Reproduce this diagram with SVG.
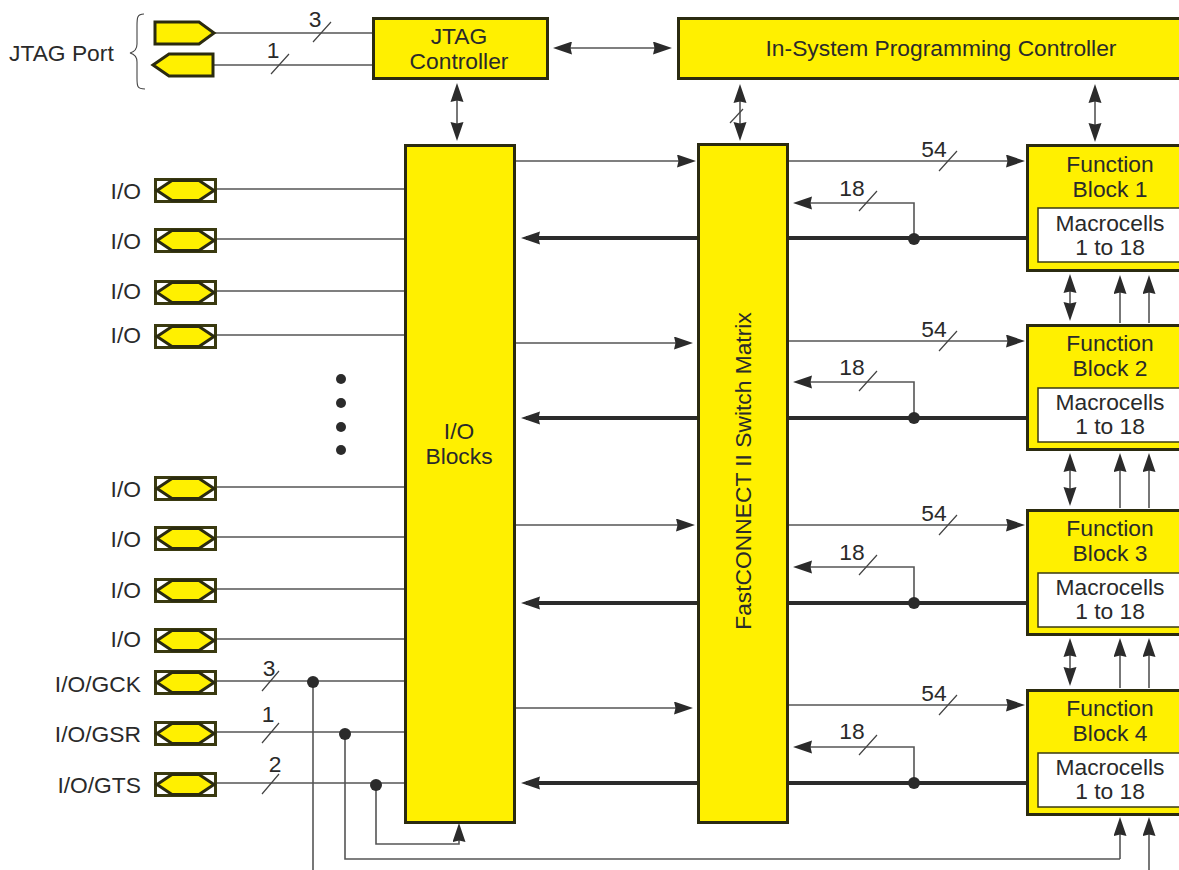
<svg xmlns="http://www.w3.org/2000/svg" xmlns:xlink="http://www.w3.org/1999/xlink" width="1179" height="870" viewBox="0 0 1179 870">
<style>
text{font-family:"Liberation Sans",Arial,sans-serif;font-size:22.8px;fill:#2a2a2a}
.m{text-anchor:middle}
.e{text-anchor:end}
.box{fill:#fff000;stroke:#2b2b10;stroke-width:3}
.in{fill:#fff;stroke:#3a3a10;stroke-width:1.5}
.pin{fill:#fff000;stroke:#2b2b10;stroke-width:3;stroke-linejoin:miter}
.pb{fill:#fff;stroke:#3a3a10;stroke-width:3}
.l{fill:none;stroke:#555;stroke-width:1.6}
.t{fill:none;stroke:#2b2b2b;stroke-width:4}
.s{fill:none;stroke:#444;stroke-width:1.2}
.a{marker-end:url(#ah)}
.aa{marker-end:url(#ah);marker-start:url(#ahs)}
.d{fill:#2b2b2b}
</style>
<defs>
<marker id="ah" markerUnits="userSpaceOnUse" markerWidth="20" markerHeight="14" refX="14" refY="6.500" orient="auto"><path d="M0 0L19 6.500L0 13L1.500 6.500Z" fill="#2b2b2b"/></marker>
<marker id="ahs" markerUnits="userSpaceOnUse" markerWidth="20" markerHeight="14" refX="5" refY="6.500" orient="auto"><path d="M19 0L0 6.500L19 13L17.500 6.500Z" fill="#2b2b2b"/></marker>
<g id="pinsym"><rect class="pb" x="155.500" y="-11" width="60" height="22"/><path class="pin" d="M157 0L172-10H199L214 0L199 10H172Z"/></g>
</defs>
<g id="connectors">
<path class="l" d="M214 33H373M213 65H373"/>
<path class="s" d="M313 42L331 22M271 74L289 54"/>
<path class="l aa" d="M558 48H667"/>
<path class="l aa" d="M457 88V136"/>
<path class="l aa" d="M740 89V136"/>
<path class="s" d="M730 123L743 109"/>
<path class="l aa" d="M1095 89V137"/>
<path class="l" d="M216 189H405M216 239H405M216 291H405M216 335H405M216 487H405M216 537H405M216 589H405M216 639H405M216 681H405M216 732H405M216 783H405"/>
<path class="s" d="M262 691L279 671M262 743L279 723M262 794L279 774"/>
<path class="l" d="M313 682V870"/>
<path class="l" d="M345 734V859H1120"/>
<path class="l a" d="M376 785V844H459V828"/>
<path class="l a" d="M1120 859V822"/>
<path class="l a" d="M1149 870V822"/>
<path class="l a" d="M515 161H691"/>
<path class="l a" d="M515 343H688"/>
<path class="l a" d="M515 525H690"/>
<path class="l a" d="M515 708H688"/>
<path class="t a" d="M698 238H526"/>
<path class="t a" d="M698 418H526"/>
<path class="t a" d="M698 603H526"/>
<path class="t a" d="M698 783H526"/>
<path class="t" d="M788 238H1027M788 418H1027M788 603H1027M788 783H1027"/>
<path class="l a" d="M788 161H1020"/>
<path class="l a" d="M788 341H1020"/>
<path class="l a" d="M788 525H1020"/>
<path class="l a" d="M788 705H1020"/>
<path class="s" d="M939 171L957 151M939 351L957 331M939 535L957 515M939 715L957 695"/>
<path class="l a" d="M914 238V203H798"/>
<path class="l a" d="M914 418V382H798"/>
<path class="l a" d="M914 603V567H798"/>
<path class="l a" d="M914 783V747H798"/>
<path class="s" d="M859 211L877 191M859 391L877 371M859 575L877 555M859 755L877 735"/>
<path class="l aa" d="M1070 279V316"/>
<path class="l aa" d="M1070 458V501"/>
<path class="l aa" d="M1070 643V681"/>
<path class="l a" d="M1120 323V280"/>
<path class="l a" d="M1149 323V280"/>
<path class="l a" d="M1120 508V458"/>
<path class="l a" d="M1149 508V458"/>
<path class="l a" d="M1120 688V643"/>
<path class="l a" d="M1149 688V643"/>
<circle class="d" cx="914" cy="239" r="6"/><circle class="d" cx="914" cy="418" r="6"/><circle class="d" cx="914" cy="603" r="6"/><circle class="d" cx="914" cy="783" r="6"/>
<circle class="d" cx="313" cy="682" r="6"/><circle class="d" cx="345" cy="734" r="6"/><circle class="d" cx="376" cy="785" r="6"/>
</g>
<g id="labels">
<text x="9" y="61">JTAG Port</text>
<path d="M144 14C137 14 137 18 137 26V44C137 50 134 52 130 53C134 54 137 56 137 62V78C137 86 137 89 145 89" fill="none" stroke="#444" stroke-width="1.100"/>
<text class="m" x="315" y="27">3</text><text class="m" x="273" y="58">1</text>
<text class="m" x="934" y="157">54</text><text class="m" x="934" y="337">54</text><text class="m" x="934" y="521">54</text><text class="m" x="934" y="701">54</text>
<text class="m" x="852" y="196">18</text><text class="m" x="852" y="375">18</text><text class="m" x="852" y="560">18</text><text class="m" x="852" y="739">18</text>
<text class="m" x="269" y="676">3</text><text class="m" x="268" y="722">1</text><text class="m" x="275" y="772">2</text>
<circle class="d" cx="341" cy="379" r="5"/><circle class="d" cx="341" cy="403" r="5"/><circle class="d" cx="341" cy="427" r="5"/><circle class="d" cx="341" cy="450" r="5"/>
</g>
<g id="jtag-out"><path class="pin" d="M155 22H199L214 33L199 44H155Z"/></g>
<g id="jtag-in"><path class="pin" d="M153 65L169 54H213V76H169Z"/></g>
<g id="io1"><use xlink:href="#pinsym" href="#pinsym" y="190.500"/><text class="e" x="141" y="199">I/O</text></g>
<g id="io2"><use xlink:href="#pinsym" href="#pinsym" y="240.500"/><text class="e" x="141" y="249">I/O</text></g>
<g id="io3"><use xlink:href="#pinsym" href="#pinsym" y="292.500"/><text class="e" x="141" y="299">I/O</text></g>
<g id="io4"><use xlink:href="#pinsym" href="#pinsym" y="336.500"/><text class="e" x="141" y="343">I/O</text></g>
<g id="io5"><use xlink:href="#pinsym" href="#pinsym" y="488.500"/><text class="e" x="141" y="497">I/O</text></g>
<g id="io6"><use xlink:href="#pinsym" href="#pinsym" y="538.500"/><text class="e" x="141" y="547">I/O</text></g>
<g id="io7"><use xlink:href="#pinsym" href="#pinsym" y="590.500"/><text class="e" x="141" y="598">I/O</text></g>
<g id="io8"><use xlink:href="#pinsym" href="#pinsym" y="640.500"/><text class="e" x="141" y="647">I/O</text></g>
<g id="gck"><use xlink:href="#pinsym" href="#pinsym" y="682.500"/><text class="e" x="141" y="692">I/O/GCK</text></g>
<g id="gsr"><use xlink:href="#pinsym" href="#pinsym" y="733.500"/><text class="e" x="141" y="742">I/O/GSR</text></g>
<g id="gts"><use xlink:href="#pinsym" href="#pinsym" y="784.500"/><text class="e" x="141" y="793">I/O/GTS</text></g>
<g id="jtag-controller"><rect class="box" x="373.500" y="18.500" width="174" height="60"/><text class="m" x="459" y="44">JTAG</text><text class="m" x="459" y="69">Controller</text></g>
<g id="isp-controller"><rect class="box" x="678.500" y="18.500" width="505" height="60"/><text class="m" x="941" y="56">In-System Programming Controller</text></g>
<g id="io-blocks"><rect class="box" x="405.500" y="145.500" width="109" height="677"/><text class="m" x="459" y="439">I/O</text><text class="m" x="459" y="464">Blocks</text></g>
<g id="switch-matrix"><rect class="box" x="698.500" y="144.500" width="89" height="678"/><text class="m" transform="translate(751 471) rotate(-90)">FastCONNECT II Switch Matrix</text></g>
<g id="fb1"><rect class="box" x="1027.500" y="145.500" width="160" height="125"/><rect class="in" x="1038" y="208" width="150" height="54"/><text class="m" x="1110" y="172">Function</text><text class="m" x="1110" y="197">Block 1</text><text class="m" x="1110" y="231">Macrocells</text><text class="m" x="1110" y="255">1 to 18</text></g>
<g id="fb2"><rect class="box" x="1027.500" y="325.500" width="160" height="124"/><rect class="in" x="1038" y="388" width="150" height="54"/><text class="m" x="1110" y="351">Function</text><text class="m" x="1110" y="376">Block 2</text><text class="m" x="1110" y="410">Macrocells</text><text class="m" x="1110" y="434">1 to 18</text></g>
<g id="fb3"><rect class="box" x="1027.500" y="510.500" width="160" height="124"/><rect class="in" x="1038" y="573" width="150" height="54"/><text class="m" x="1110" y="536">Function</text><text class="m" x="1110" y="561">Block 3</text><text class="m" x="1110" y="595">Macrocells</text><text class="m" x="1110" y="619">1 to 18</text></g>
<g id="fb4"><rect class="box" x="1027.500" y="690.500" width="160" height="124"/><rect class="in" x="1038" y="753" width="150" height="54"/><text class="m" x="1110" y="716">Function</text><text class="m" x="1110" y="741">Block 4</text><text class="m" x="1110" y="775">Macrocells</text><text class="m" x="1110" y="799">1 to 18</text></g>
</svg>
